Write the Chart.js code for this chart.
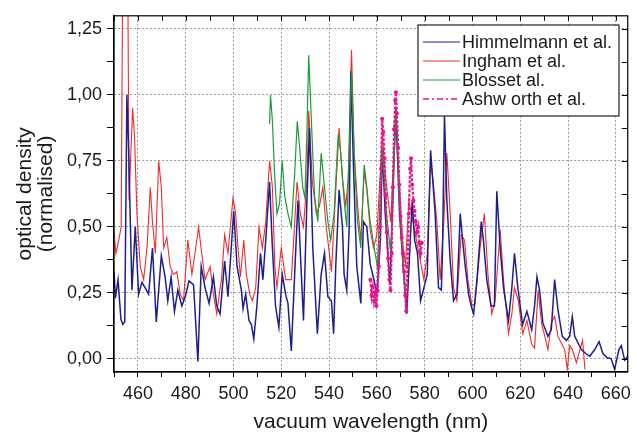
<!DOCTYPE html>
<html>
<head>
<meta charset="utf-8">
<script src="https://cdn.jsdelivr.net/npm/chart.js@4/dist/chart.umd.min.js"></script>
<style>
  html, body { margin: 0; padding: 0; background: #fff; }
</style>
</head>
<body>
<canvas id="chart" width="637" height="434"></canvas>
<script>
(function () {
  'use strict';

  // Himmelmann et al. (navy)
  const himWl = [450.0, 450.6, 451.7, 452.9, 453.7, 454.5, 455.4, 456.1, 457.5, 458.9, 460.3, 461.7, 463.0, 464.5, 466.1, 467.7, 469.8, 471.4, 472.5, 473.9, 475.3, 476.7, 478.4, 479.8, 481.4, 483.3, 485.1, 486.5, 488.1, 489.8, 491.6, 493.0, 494.4, 496.3, 497.7, 500.1, 501.5, 503.3, 504.0, 505.1, 506.5, 507.5, 508.5, 509.8, 511.3, 512.3, 513.5, 515.1, 516.3, 517.6, 519.0, 520.4, 521.8, 522.8, 524.2, 525.6, 527.0, 528.4, 529.3, 530.7, 531.8, 533.2, 535.1, 536.7, 538.1, 539.5, 541.0, 541.9, 542.8, 544.2, 545.6, 546.3, 547.4, 548.4, 549.1, 550.2, 551.6, 553.3, 554.4, 555.8, 557.2, 558.9, 560.0, 561.5, 562.3, 563.5, 565.5, 567.9, 569.5, 571.0, 572.5, 574.8, 575.8, 577.0, 578.3, 579.7, 581.1, 582.5, 584.4, 585.8, 587.0, 587.5, 588.3, 589.3, 590.7, 592.1, 593.5, 594.9, 595.9, 597.0, 598.4, 599.5, 600.5, 601.9, 603.7, 604.6, 606.0, 607.8, 609.2, 610.2, 611.6, 613.0, 615.1, 616.5, 617.6, 619.0, 621.0, 622.8, 624.8, 626.0, 627.0, 628.1, 629.5, 631.6, 633.0, 634.4, 635.8, 637.6, 639.3, 640.7, 641.8, 642.8, 644.2, 645.6, 647.4, 649.1, 651.2, 653.0, 654.6, 656.3, 658.1, 659.5, 661.3, 662.3, 663.7, 665.0];
  const himOd = [0.33, 0.23, 0.30, 0.15, 0.13, 0.14, 1.00, 0.80, 0.26, 0.50, 0.245, 0.29, 0.27, 0.245, 0.42, 0.14, 0.39, 0.31, 0.22, 0.31, 0.18, 0.26, 0.20, 0.235, 0.295, 0.28, -0.01, 0.35, 0.27, 0.21, 0.31, 0.20, 0.17, 0.37, 0.235, 0.56, 0.35, 0.26, 0.19, 0.245, 0.145, 0.13, 0.075, 0.20, 0.40, 0.30, 0.45, 0.67, 0.42, 0.20, 0.12, 0.32, 0.245, 0.21, 0.03, 0.32, 0.60, 0.32, 0.145, 0.59, 0.875, 0.42, 0.095, 0.32, 0.40, 0.235, 0.22, 0.095, 0.35, 0.64, 0.50, 0.32, 0.26, 0.49, 1.09, 0.735, 0.35, 0.21, 0.52, 0.50, 0.36, 0.295, 0.245, 0.45, 0.80, 0.55, 0.28, 0.95, 0.55, 0.35, 0.17, 0.60, 0.45, 0.40, 0.22, 0.27, 0.32, 0.79, 0.55, 0.27, 0.26, 0.42, 0.925, 0.60, 0.37, 0.22, 0.245, 0.55, 0.45, 0.35, 0.245, 0.20, 0.17, 0.30, 0.52, 0.45, 0.30, 0.20, 0.20, 0.635, 0.42, 0.27, 0.145, 0.27, 0.40, 0.27, 0.13, 0.18, 0.11, 0.20, 0.31, 0.26, 0.135, 0.085, 0.11, 0.30, 0.185, 0.085, 0.07, 0.085, 0.16, 0.085, 0.06, 0.035, 0.02, 0.01, 0.035, 0.065, 0.02, 0.005, 0.0, -0.04, 0.035, 0.05, -0.005, 0.01];

  // Ingham et al. (red)
  const ingWl = [450.0, 450.8, 452.0, 453.0, 453.6, 454.6, 455.8, 456.3, 457.8, 458.6, 459.6, 461.0, 462.4, 463.8, 465.2, 466.1, 467.3, 468.7, 469.8, 470.8, 472.1, 473.5, 474.9, 476.3, 477.7, 479.1, 480.9, 482.6, 483.9, 485.4, 486.7, 488.1, 490.2, 491.6, 493.0, 494.4, 495.0, 496.3, 497.7, 499.8, 500.9, 501.9, 502.9, 504.3, 505.4, 506.8, 507.9, 509.3, 510.7, 512.1, 513.5, 515.1, 516.3, 517.3, 518.2, 520.0, 521.8, 524.2, 525.2, 526.6, 528.0, 529.3, 530.7, 531.5, 533.0, 534.7, 536.0, 537.4, 538.8, 540.0, 541.0, 542.1, 544.2, 545.6, 547.0, 548.0, 549.4, 550.5, 552.2, 553.3, 554.7, 555.8, 557.2, 558.6, 560.0, 562.3, 563.5, 565.8, 568.0, 569.5, 571.0, 572.0, 573.4, 575.5, 577.6, 579.7, 581.1, 582.5, 583.6, 585.1, 586.5, 587.9, 589.3, 590.7, 592.1, 593.5, 595.3, 596.7, 598.1, 599.8, 601.1, 603.2, 605.0, 606.5, 608.1, 609.5, 611.6, 613.0, 615.1, 616.5, 617.6, 619.2, 621.0, 622.8, 624.8, 626.0, 627.5, 628.9, 630.3, 631.6, 633.0, 634.4, 635.8, 637.2, 638.6, 639.7, 640.7, 641.8, 643.5, 645.0, 646.1, 647.1];
  const ingOd = [0.48, 0.40, 0.45, 0.50, 1.40, 1.60, 1.40, 0.60, 0.95, 0.84, 0.55, 0.35, 0.30, 0.42, 0.65, 0.52, 0.40, 0.75, 0.65, 0.42, 0.46, 0.35, 0.32, 0.33, 0.245, 0.22, 0.45, 0.32, 0.40, 0.50, 0.40, 0.30, 0.35, 0.245, 0.17, 0.27, 0.30, 0.47, 0.40, 0.61, 0.55, 0.42, 0.31, 0.45, 0.32, 0.245, 0.22, 0.27, 0.50, 0.42, 0.52, 0.75, 0.65, 0.35, 0.27, 0.42, 0.30, 0.30, 0.45, 0.67, 0.55, 0.50, 0.67, 0.94, 0.67, 0.55, 0.58, 0.65, 0.50, 0.41, 0.33, 0.52, 0.875, 0.68, 0.58, 0.68, 1.17, 0.78, 0.55, 0.45, 0.71, 0.64, 0.49, 0.42, 0.47, 0.85, 0.70, 0.52, 0.95, 0.65, 0.42, 0.36, 0.60, 0.50, 0.40, 0.30, 0.40, 0.75, 0.67, 0.52, 0.30, 0.50, 0.78, 0.55, 0.27, 0.22, 0.47, 0.45, 0.30, 0.20, 0.21, 0.42, 0.55, 0.32, 0.17, 0.22, 0.49, 0.30, 0.095, 0.17, 0.27, 0.22, 0.095, 0.145, 0.055, 0.04, 0.26, 0.135, 0.085, 0.035, 0.135, 0.16, 0.085, 0.06, 0.035, -0.04, 0.05, 0.035, -0.015, 0.035, 0.07, -0.04];

  // Blosset al. (green)
  const bloWl = [515.1, 515.5, 516.3, 517.2, 518.2, 519.3, 520.4, 521.4, 522.8, 524.2, 525.6, 526.7, 527.7, 529.0, 529.9, 530.7, 531.5, 532.5, 533.9, 535.3, 536.7, 538.1, 539.5, 540.7, 542.1, 543.8, 544.9, 546.3, 547.4, 548.4, 549.4, 550.5, 551.9, 553.3, 554.7, 555.8, 557.2, 558.9, 560.2, 562.3, 564.0, 565.8, 568.0, 569.5, 571.0, 572.5];
  const bloOd = [0.89, 1.00, 0.90, 0.70, 0.55, 0.59, 0.75, 0.62, 0.55, 0.50, 0.70, 0.90, 0.80, 0.65, 0.61, 0.85, 1.15, 0.925, 0.62, 0.52, 0.78, 0.65, 0.52, 0.45, 0.55, 0.85, 0.78, 0.60, 0.50, 0.78, 1.09, 0.78, 0.52, 0.42, 0.735, 0.65, 0.52, 0.42, 0.35, 0.80, 0.55, 0.40, 0.95, 0.60, 0.35, 0.18];

  // Ashworth et al. (magenta)
  const ashWl = [557.3, 557.8, 558.3, 558.8, 559.3, 559.8, 560.3, 560.8, 561.3, 561.8, 562.2, 562.7, 563.2, 563.7, 564.2, 564.7, 565.2, 565.7, 566.2, 566.7, 567.2, 567.7, 568.0, 568.4, 568.9, 569.4, 569.9, 570.4, 570.9, 571.4, 571.9, 572.3, 572.8, 573.4, 573.9, 574.3, 574.8, 575.3, 575.8, 576.3, 576.8, 577.3, 577.8, 578.3, 578.8];
  const ashOd = [0.30, 0.24, 0.27, 0.22, 0.25, 0.20, 0.26, 0.35, 0.50, 0.72, 0.91, 0.86, 0.76, 0.62, 0.48, 0.38, 0.30, 0.26, 0.40, 0.65, 0.87, 0.98, 1.01, 0.93, 0.80, 0.66, 0.54, 0.46, 0.40, 0.33, 0.24, 0.18, 0.35, 0.55, 0.72, 0.76, 0.66, 0.60, 0.56, 0.52, 0.48, 0.50, 0.44, 0.40, 0.44];

  // 軸の目盛り
  const xTicks = [450, 460, 470, 480, 490, 500, 510, 520, 530, 540, 550, 560, 570, 580, 590, 600, 610, 620, 630, 640, 650, 660];
  const yTicks = [0, 0.125, 0.25, 0.375, 0.5, 0.625, 0.75, 0.875, 1.0, 1.125, 1.25];

  const legendNames = ['Himmelmann et al.', 'Ingham et al.', 'Blosset al.', 'Ashw orth et al.'];
  const colors = ['#1f1f8c', '#ef2b2b', '#1f9a3c', '#e8168a'];

  const pts = (xs, ys) => xs.map((x, i) => ({ x: x, y: ys[i] }));
  const isMajorX = v => v % 20 === 0;
  const isMajorY = v => Math.abs(v / 0.25 - Math.round(v / 0.25)) < 1e-6;
  const font = 'Arial, "Liberation Sans", sans-serif';

  // 枠と上・右の内向き目盛り、凡例
  const framePlugin = {
    id: 'frame',
    afterDraw(chart) {
      const { ctx, chartArea: a, scales } = chart;
      ctx.save();
      ctx.strokeStyle = '#000';
      ctx.lineWidth = 1.2;
      ctx.strokeRect(a.left, a.top, a.right - a.left, a.bottom - a.top);
      ctx.lineWidth = 1;
      ctx.beginPath();
      xTicks.forEach(v => {
        const px = Math.round(scales.x.getPixelForValue(v)) + 0.5;
        ctx.moveTo(px, a.top);
        ctx.lineTo(px, a.top + 5);
      });
      yTicks.forEach(v => {
        const py = Math.round(scales.y.getPixelForValue(v)) + 0.5;
        ctx.moveTo(a.right, py);
        ctx.lineTo(a.right - 6, py);
      });
      ctx.stroke();

      // 凡例
      const bx = 418, by = 25, bw = 201, bh = 91;
      ctx.fillStyle = '#fff';
      ctx.fillRect(bx, by, bw, bh);
      ctx.lineWidth = 1.2;
      ctx.strokeStyle = '#222';
      ctx.strokeRect(bx, by, bw, bh);
      ctx.font = '18px ' + font;
      ctx.textBaseline = 'middle';
      legendNames.forEach((name, i) => {
        const y = 42 + i * 19;
        ctx.strokeStyle = colors[i];
        ctx.lineWidth = i === 3 ? 1.6 : 1.2;
        ctx.setLineDash(i === 3 ? [6, 3, 2, 3] : []);
        ctx.beginPath();
        ctx.moveTo(423, y);
        ctx.lineTo(460, y);
        ctx.stroke();
        ctx.setLineDash([]);
        ctx.fillStyle = '#1a1a1a';
        ctx.fillText(name, 462, y + 1);
      });
      ctx.restore();
    }
  };

  const ctx = document.getElementById('chart').getContext('2d');
  new Chart(ctx, {
    type: 'line',
    data: {
      datasets: [
        { label: legendNames[3], data: pts(ashWl, ashOd), borderColor: colors[3], backgroundColor: colors[3], borderWidth: 2.2, borderDash: [3, 1.5], pointRadius: 2, pointBorderWidth: 0, order: 0 },
        { label: legendNames[2], data: pts(bloWl, bloOd), borderColor: colors[2], borderWidth: 1.2, pointRadius: 0, order: 1 },
        { label: legendNames[0], data: pts(himWl, himOd), borderColor: colors[0], borderWidth: 1.5, pointRadius: 0, order: 2 },
        { label: legendNames[1], data: pts(ingWl, ingOd), borderColor: colors[1], borderWidth: 1.1, pointRadius: 0, order: 3 }
      ]
    },
    options: {
      responsive: false,
      animation: false,
      layout: { padding: { left: 0, right: 8, top: 15, bottom: 0 } },
      plugins: {
        legend: { display: false },
        tooltip: { enabled: false }
      },
      scales: {
        x: {
          type: 'linear',
          min: 450,
          max: 665,
          afterBuildTicks: s => { s.ticks = xTicks.map(v => ({ value: v })); },
          afterFit: s => { s.height = 62; },
          ticks: {
            autoSkip: false,
            maxRotation: 0,
            padding: 6,
            color: '#1a1a1a',
            font: { family: font, size: 18 },
            callback: v => (isMajorX(v) ? String(v) : '')
          },
          grid: {
            color: c => (c.tick && isMajorX(c.tick.value) && c.tick.value !== 450 ? '#9a9a9a' : 'rgba(0,0,0,0)'),
            tickColor: '#000',
            tickLength: 5,
            lineWidth: 1
          },
          border: { display: true, color: '#000', width: 1.2, dash: [2, 2] },
          title: {
            display: true,
            text: 'vacuum wavelength (nm)',
            color: '#1a1a1a',
            font: { family: font, size: 21, lineHeight: 1.14 },
            padding: { top: 0, bottom: 0 }
          }
        },
        y: {
          type: 'linear',
          min: -0.05,
          max: 1.3,
          afterBuildTicks: s => { s.ticks = yTicks.map(v => ({ value: v })); },
          afterFit: s => { s.width = 114; },
          ticks: {
            autoSkip: false,
            padding: 5,
            color: '#1a1a1a',
            font: { family: font, size: 18 },
            callback: v => (isMajorY(v) ? v.toFixed(2).replace('.', ',') : '')
          },
          grid: {
            color: c => (c.tick && isMajorY(c.tick.value) ? '#9a9a9a' : 'rgba(0,0,0,0)'),
            tickColor: '#000',
            tickLength: 7,
            lineWidth: 1
          },
          border: { display: true, color: '#000', width: 1.2, dash: [2, 2] },
          title: {
            display: true,
            text: ['optical density', '(normalised)'],
            color: '#1a1a1a',
            font: { family: font, size: 21, lineHeight: 1.0 },
            padding: { top: 15, bottom: 0 }
          }
        }
      }
    },
    plugins: [framePlugin]
  });
})();
</script>
</body>
</html>
